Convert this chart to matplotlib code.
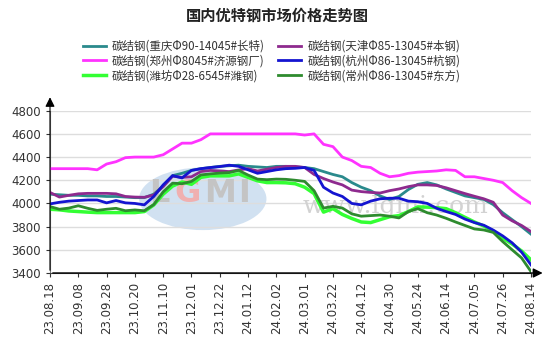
import numpy as np
import matplotlib
matplotlib.use('Agg')
import matplotlib.pyplot as plt
from matplotlib.patches import Ellipse

plt.rcParams['font.family'] = ['Noto Sans CJK SC', 'DejaVu Sans']

# date labels, one every 15 working days
dates = ['23.08.18', '23.09.08', '23.09.28', '23.10.20', '23.11.10', '23.12.01',
         '23.12.22', '24.01.12', '24.02.02', '24.03.01', '24.03.22', '24.04.12',
         '24.04.30', '24.05.24', '24.06.14', '24.07.05', '24.07.26', '24.08.14']

# weekly prices (yuan/t), three samples per label interval
chongqing = [4080, 4075, 4070, 4070, 4065, 4065, 4060, 4060, 4055, 4050, 4050, 4080,
             4150, 4240, 4260, 4285, 4300, 4310, 4320, 4325, 4330, 4320, 4315, 4310,
             4320, 4320, 4315, 4310, 4300, 4275, 4250, 4230, 4180, 4140, 4110, 4065,
             4035, 4060, 4120, 4165, 4180, 4160, 4125, 4095, 4065, 4050, 4035, 3990,
             3920, 3860, 3800, 3735]
tianjin = [4095, 4055, 4070, 4083, 4087, 4087, 4087, 4083, 4060, 4055, 4053, 4073,
           4145, 4235, 4225, 4230, 4275, 4285, 4280, 4275, 4289, 4300, 4280, 4295,
           4310, 4320, 4320, 4310, 4250, 4215, 4185, 4160, 4115, 4102, 4095, 4090,
           4110, 4125, 4145, 4160, 4160, 4155, 4135, 4110, 4085, 4062, 4040, 4010,
           3900, 3850, 3810, 3757]
zhengzhou = [4300, 4300, 4300, 4300, 4300, 4290, 4340, 4360, 4395, 4400, 4400, 4400,
             4420, 4470, 4520, 4520, 4550, 4600, 4600, 4600, 4600, 4600, 4600, 4600,
             4600, 4600, 4600, 4590, 4600, 4510, 4490, 4400, 4370, 4320, 4310, 4260,
             4230, 4240, 4260, 4270, 4275, 4280, 4290, 4285, 4230, 4230, 4215, 4200,
             4180, 4110, 4050, 4000]
hangzhou = [3996, 4010, 4020, 4025, 4030, 4030, 4005, 4025, 4005, 4000, 3988, 4060,
            4160, 4240, 4220, 4285, 4300, 4310, 4318, 4330, 4320, 4290, 4260, 4275,
            4290, 4300, 4303, 4310, 4285, 4140, 4090, 4060, 4000, 3988, 4020, 4040,
            4045, 4045, 4020, 4015, 4000, 3958, 3930, 3905, 3865, 3835, 3812, 3770,
            3720, 3660, 3580, 3470]
weifang = [3950, 3945, 3935, 3930, 3925, 3921, 3921, 3921, 3921, 3921, 3930, 3987,
           4080, 4150, 4185, 4165, 4225, 4238, 4238, 4238, 4255, 4225, 4195, 4180,
           4180, 4178, 4170, 4140, 4085, 3925, 3955, 3905, 3870, 3840, 3835, 3860,
           3885, 3895, 3930, 3970, 3968, 3963, 3955, 3920, 3880, 3840, 3805, 3760,
           3700, 3650, 3590, 3513]
changzhou = [3973, 3950, 3960, 3980, 3958, 3940, 3950, 3958, 3937, 3944, 3937, 3990,
             4100, 4175, 4170, 4190, 4246, 4255, 4262, 4266, 4285, 4245, 4210, 4205,
             4210, 4208, 4200, 4190, 4110, 3960, 3975, 3960, 3910, 3890, 3895, 3900,
             3890, 3875, 3930, 3955, 3920, 3900, 3872, 3840, 3810, 3780, 3771, 3750,
             3671, 3600, 3530, 3412]

names = ['碳结钢(重庆Φ90-14045#长特)', '碳结钢(郑州Φ8045#济源钢厂)', '碳结钢(潍坊Φ28-6545#潍钢)',
         '碳结钢(天津Φ85-13045#本钢)', '碳结钢(杭州Φ86-13045#杭钢)', '碳结钢(常州Φ86-13045#东方)']
series = [chongqing, zhengzhou, weifang, tianjin, hangzhou, changzhou]
colors = ['#2a8a8c', '#ff33ff', '#33ff33', '#8e2a8e', '#1414d0', '#2e8b2e']
widths = [2.0, 2.0, 2.5, 2.0, 2.0, 2.0]

x = np.arange(len(chongqing)) / 3.0

fig = plt.figure(figsize=(5.54, 3.49), dpi=100)
ax = fig.add_axes([50 / 554, 1 - 273 / 349, 481 / 554, 162.3 / 349])

# faint site watermark
ax.add_patch(Ellipse((5.4, 4040), 4.5, 540, facecolor='#c9dcef', edgecolor='none', alpha=0.85, zorder=0))
for dx, ch, c in zip([-1.55, -0.55, 0.6, 1.47], 'LGMI', ['#c4c4c4', '#f0b0b0', '#c4c4c4', '#c4c4c4']):
    ax.text(5.4 + dx, 4090, ch, fontsize=23, fontweight='bold', color=c, ha='center', va='center',
            family='DejaVu Sans', zorder=1)
ax.text(12.2, 3975, 'www.lgmi.com', fontsize=18, color='#d2d2d2', ha='center', va='center',
        family='DejaVu Serif', zorder=1)

for vals, name, c, w in zip(series, names, colors, widths):
    ax.plot(x, vals, color=c, lw=w, label=name, zorder=3)

ax.set_xlim(0, 17)
ax.set_ylim(3400, 4800)
ax.set_yticks(np.arange(3400, 4801, 200))
ax.set_xticks(np.arange(len(dates)))
ax.set_xticklabels(dates, rotation=90, family='DejaVu Sans')
ax.tick_params(axis='both', labelsize=8.5, colors='#333333', length=3)
for lbl in ax.get_yticklabels():
    lbl.set_family('DejaVu Sans')
ax.grid(axis='y', color='#dddddd', lw=1)
ax.set_axisbelow(True)
for s in ['top', 'right']:
    ax.spines[s].set_visible(False)
ax.spines['left'].set_color('#777777')
ax.spines['bottom'].set_color('#444444')

# arrow heads on both axes
ax.annotate('', xy=(1.03, 0), xytext=(0, 0), xycoords='axes fraction',
            arrowprops=dict(arrowstyle='-|>', color='black', lw=1, mutation_scale=14))
ax.annotate('', xy=(0, 1.1), xytext=(0, 0), xycoords='axes fraction',
            arrowprops=dict(arrowstyle='-|>', color='black', lw=0.8, mutation_scale=14))

fig.text(0.5, 1 - 16 / 349, '国内优特钢市场价格走势图', ha='center', va='center',
         fontsize=11, fontweight='bold', color='#222222')
fig.legend(loc='center', bbox_to_anchor=(0.49, 1 - 61 / 349), ncol=2, frameon=False,
           fontsize=8.3, handlelength=2.0, handletextpad=0.5, columnspacing=1.2,
           labelspacing=0.15, borderpad=0, labelcolor='#333333')

fig.savefig('out.png', dpi=100)
